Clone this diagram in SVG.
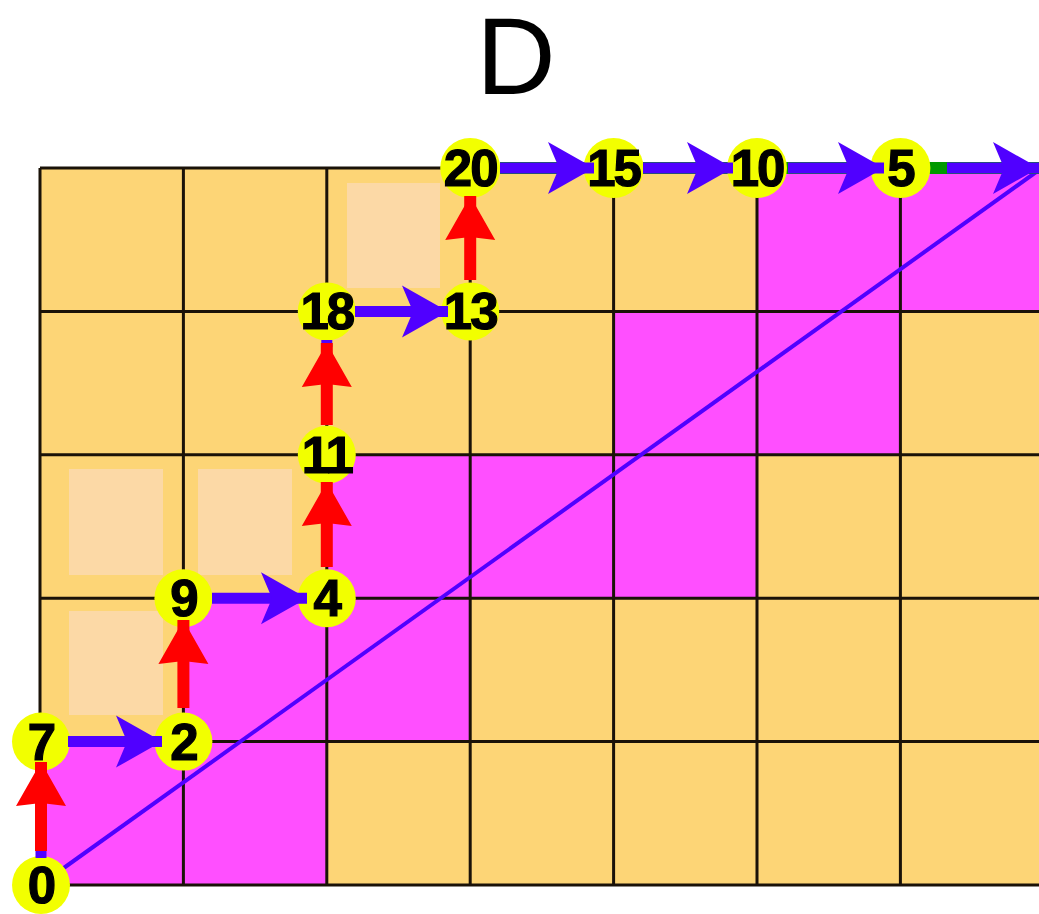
<svg xmlns="http://www.w3.org/2000/svg" width="1039" height="914" viewBox="0 0 1039 914">
<style>
.cell{fill:#ff4fff}
.pale{fill:#fcd9a6}
.grid{stroke:#1a1208;stroke-width:3;fill:none}
.nc{fill:#f2ff00}
.nt{font-family:"Liberation Sans",Arial,sans-serif;font-weight:bold;font-size:51px;fill:#000;stroke:#000;stroke-width:1.2;text-anchor:middle;letter-spacing:-2px}
.blue{stroke:#5000ff;stroke-width:11;fill:none}
.red{stroke:#ff0000;stroke-width:12;fill:none}
</style>
<defs>
<marker id="ab" markerUnits="userSpaceOnUse" viewBox="0 0 48 54" markerWidth="48" markerHeight="54" refX="47" refY="27" orient="auto">
<path d="M1,1 L47,27 L1,53 L12,27 Z" fill="#5000ff"/>
</marker>
<marker id="ar" markerUnits="userSpaceOnUse" viewBox="0 0 46 52" markerWidth="46" markerHeight="52" refX="45" refY="26" orient="auto">
<path d="M1,1 L45,26 L1,51 L4,26 Z" fill="#ff0000"/>
</marker>
</defs>
<rect width="1039" height="914" fill="#ffffff"/>
<text x="516" y="94" font-family="Liberation Sans,Arial,sans-serif" font-size="110" text-anchor="middle" fill="#000">D</text>
<g id="board">
<rect x="40" y="168" width="1000" height="717" fill="#fdd576"/>
<rect class="cell" x="757" y="168" width="283" height="143.4"/>
<rect class="cell" x="613.6" y="311.4" width="286.8" height="143.4"/>
<rect class="cell" x="326.8" y="454.8" width="430.2" height="143.4"/>
<rect class="cell" x="183.4" y="598.2" width="286.8" height="143.4"/>
<rect class="cell" x="40" y="741.6" width="286.8" height="143.4"/>
<rect class="pale" x="347" y="183" width="93" height="105"/>
<rect class="pale" x="69" y="469" width="94" height="106"/>
<rect class="pale" x="198" y="469" width="94" height="106"/>
<rect class="pale" x="69" y="611" width="94" height="104"/>
<path class="grid" d="M40,168 H1040 M40,311.4 H1040 M40,454.8 H1040 M40,598.2 H1040 M40,741.6 H1040 M40,885 H1040 M40,168 V885 M183.4,168 V885 M326.8,168 V885 M470.2,168 V885 M613.6,168 V885 M757,168 V885 M900.4,168 V885"/>
</g>
<g id="diagonal">
<line x1="40" y1="885" x2="1039" y2="170" stroke="#5000ff" stroke-width="4"/>
<line x1="500" y1="168" x2="1039" y2="168" stroke="#009900" stroke-width="12"/>
</g>
<g id="n0"><circle class="nc" cx="41" cy="885" r="29"/><text class="nt" x="41" y="903">0</text></g>
<g id="n7"><circle class="nc" cx="41" cy="741.6" r="29"/><text class="nt" x="41" y="759.6">7</text></g>
<g id="n2"><circle class="nc" cx="183.4" cy="741.6" r="29"/><text class="nt" x="183.4" y="759.6">2</text></g>
<g id="n9"><circle class="nc" cx="183.4" cy="598.2" r="29"/><text class="nt" x="183.4" y="616.2">9</text></g>
<g id="n4"><circle class="nc" cx="326.8" cy="598.2" r="29"/><text class="nt" x="326.8" y="616.2">4</text></g>
<g id="n11"><circle class="nc" cx="326.8" cy="454.8" r="29"/><text class="nt" x="326.8" y="472.8">11</text></g>
<g id="n18"><circle class="nc" cx="326.8" cy="311.4" r="29"/><text class="nt" x="326.8" y="329.4">18</text></g>
<g id="n13"><circle class="nc" cx="470.2" cy="311.4" r="29"/><text class="nt" x="470.2" y="329.4">13</text></g>
<g id="n20"><circle class="nc" cx="470.2" cy="168" r="30"/><text class="nt" x="470.2" y="186">20</text></g>
<g id="n15"><circle class="nc" cx="613.6" cy="168" r="30"/><text class="nt" x="613.6" y="186">15</text></g>
<g id="n10"><circle class="nc" cx="757" cy="168" r="30"/><text class="nt" x="757" y="186">10</text></g>
<g id="n5"><circle class="nc" cx="900.4" cy="168" r="30"/><text class="nt" x="900.4" y="186">5</text></g>
<g id="connectors">
<line x1="41" y1="858" x2="41" y2="850" stroke="#5000ff" stroke-width="11"/>
<line x1="326.8" y1="347" x2="326.8" y2="340" stroke="#5000ff" stroke-width="11"/>
<line class="red" x1="41" y1="851" x2="41" y2="762" marker-end="url(#ar)"/>
<line class="blue" x1="68" y1="741.6" x2="162" y2="741.6" marker-end="url(#ab)"/>
<line class="red" x1="183.4" y1="708" x2="183.4" y2="620" marker-end="url(#ar)"/>
<line class="blue" x1="212" y1="598.2" x2="307" y2="598.2" marker-end="url(#ab)"/>
<line class="red" x1="326.8" y1="567" x2="326.8" y2="482" marker-end="url(#ar)"/>
<line class="red" x1="326.8" y1="425" x2="326.8" y2="343" marker-end="url(#ar)"/>
<line class="blue" x1="355" y1="311.4" x2="448" y2="311.4" marker-end="url(#ab)"/>
<line class="red" x1="470.2" y1="280" x2="470.2" y2="196" marker-end="url(#ar)"/>
<line class="blue" x1="500" y1="168" x2="594" y2="168" marker-end="url(#ab)"/>
<line class="blue" x1="643" y1="168" x2="733" y2="168" marker-end="url(#ab)"/>
<line class="blue" x1="788" y1="168" x2="884" y2="168" marker-end="url(#ab)"/>
<line class="blue" x1="947" y1="168" x2="1039" y2="168" marker-end="url(#ab)"/>
</g>
</svg>
